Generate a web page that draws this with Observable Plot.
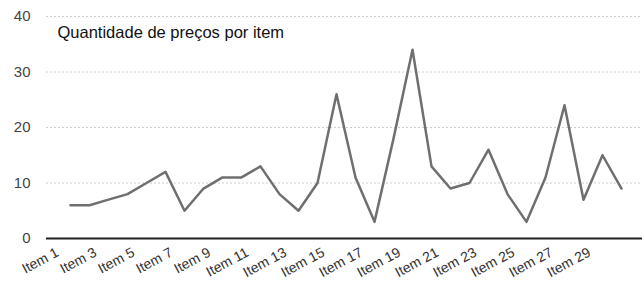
<!DOCTYPE html>
<html><head><meta charset="utf-8">
<script src="https://cdn.jsdelivr.net/npm/d3@7"></script>
<script src="https://cdn.jsdelivr.net/npm/@observablehq/plot@0.6"></script>
<style>body{margin:0;background:#fff}</style>
</head><body><div id="chart"></div>
<script>
const items = Array.from({length: 30}, (_, i) => `Item ${i + 1}`);
const values = [6, 6, 7, 8, 10, 12, 5, 9, 11, 11, 13, 8, 5, 10, 26, 11, 3, 18, 34, 13, 9, 10, 16, 8, 3, 11, 24, 7, 15, 9];
const xTickLabels = items.filter((_, i) => i % 2 === 0);
const yTicks = [0, 10, 20, 30, 40];
const title = "Quantidade de preços por item";

const data = items.map((item, i) => ({item, value: values[i]}));

const chart = Plot.plot({
  width: 644, height: 281,
  marginLeft: 46, marginRight: 2, marginTop: 16, marginBottom: 43,
  style: {fontFamily: "Liberation Sans, Arial, sans-serif", background: "#fff", overflow: "visible"},
  x: {type: "point", domain: items, insetLeft: 12, insetRight: 10},
  y: {domain: [0, 40], ticks: yTicks},
  marks: [
    Plot.ruleY(yTicks.filter(d => d > 0), {stroke: "#ccc", strokeDasharray: "2,2", strokeWidth: 1}),
    Plot.axisY({ticks: yTicks, tickSize: 0, tickPadding: 16, fontSize: 15, fill: "#444", label: null}),
    Plot.axisX({ticks: xTickLabels, tickSize: 0, tickRotate: -28, tickPadding: 10, dx: -13, dy: 3, fontSize: 14, fill: "#333", label: null}),
    Plot.line(data, {x: "item", y: "value", stroke: "#6f6f6f", strokeWidth: 2.5}),
    Plot.ruleY([0], {stroke: "#222", strokeWidth: 2}),
    Plot.text([title], {frameAnchor: "top-left", dx: 11, dy: 10, lineAnchor: "top", fontSize: 16.5, fill: "#111", fontWeight: 500})
  ]
});
document.getElementById("chart").append(chart);
</script></body></html>
